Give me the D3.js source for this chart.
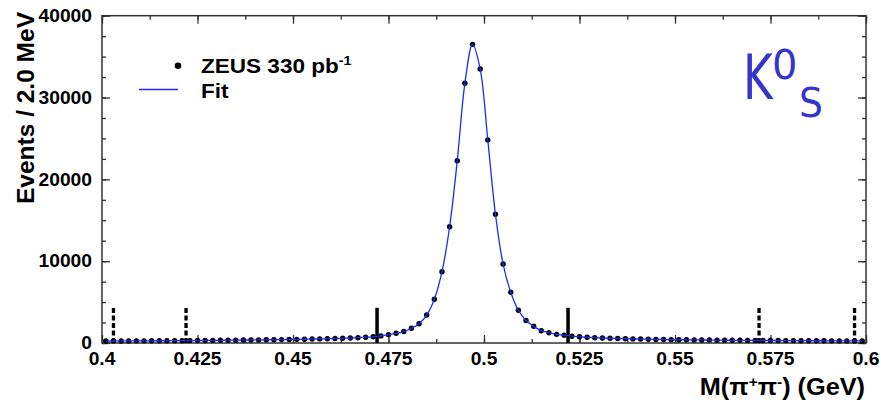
<!DOCTYPE html>
<html>
<head>
<meta charset="utf-8">
<script src="https://cdn.jsdelivr.net/npm/d3@7"></script>
<style>
  html, body { margin: 0; padding: 0; background: #fff; }
  svg { display: block; }
  text { font-family: "Liberation Sans", Arial, sans-serif; font-weight: bold; fill: #000; }
</style>
</head>
<body>
<svg width="881" height="403"></svg>
<script>
// 2 MeV bins from 0.400 to 0.600 GeV, counts per bin
const massLo = 0.4;
const binWidth = 0.002;
const counts = [
  240, 245, 250, 255, 260, 265, 270, 275, 280, 285,
  290, 295, 300, 310, 320, 330, 340, 350, 360, 370,
  380, 390, 400, 415, 430, 445, 460, 480, 500, 520,
  545, 575, 610, 650, 700, 760, 870, 1020, 1190, 1400,
  1800, 2360, 3420, 5340, 8710, 14210, 22280, 31740, 36500, 33480,
  24800, 15730, 9650, 6200, 4000, 2750, 2040, 1500, 1260, 1060,
  960, 830, 760, 700, 650, 610, 580, 550, 520, 500,
  480, 460, 440, 425, 410, 400, 390, 380, 370, 360,
  350, 340, 335, 330, 320, 315, 310, 305, 300, 295,
  290, 285, 280, 275, 270, 265, 260, 255, 250, 245
];
// signal window (solid) and side bands (dashed)
const signalEdges = [0.472, 0.522];
const sidebandEdges = [0.403, 0.422, 0.572, 0.597];
const markerHeight = 4300;

const xTicks = [0.4, 0.425, 0.45, 0.475, 0.5, 0.525, 0.55, 0.575, 0.6];
const yTicks = [0, 10000, 20000, 30000, 40000];

const svg = d3.select('svg');
const pLeft = 102, pRight = 866, pTop = 15.7, pBottom = 343;
const sx = 1.1; // text in the picture is a bit wide

const x = d3.scaleLinear().domain([0.4, 0.6]).range([pLeft, pRight]);
const y = d3.scaleLinear().domain([0, 40000]).range([pBottom, pTop]);

const data = counts.map((c, i) => ({ m: massLo + binWidth * (i + 0.5), c }));

function label(g, tx, ty, str, size, anchor) {
  return g.append('text')
    .attr('transform', `translate(${tx},${ty}) scale(${sx},1)`)
    .attr('text-anchor', anchor || 'start')
    .style('font-size', size + 'px')
    .text(str);
}

// frame
svg.append('rect')
  .attr('x', pLeft).attr('y', pTop)
  .attr('width', pRight - pLeft).attr('height', pBottom - pTop)
  .attr('fill', 'none').attr('stroke', '#333').attr('stroke-width', 1.5);

// ticks (inside the frame, like ROOT)
const minorX = d3.range(0, 17).map(i => 0.4 + i * 0.0125);
const minorY = d3.range(0, 17).map(i => i * 2500);
function tickAxis(axis, vals, size, tx, ty) {
  const g = svg.append('g').attr('transform', `translate(${tx},${ty})`)
    .call(axis.tickValues(vals).tickSize(size).tickFormat(''));
  g.select('.domain').remove();
  g.selectAll('line').attr('stroke', '#333').attr('stroke-width', 1.3);
}
tickAxis(d3.axisBottom(x), minorX, -4, 0, pBottom);
tickAxis(d3.axisBottom(x), xTicks, -8, 0, pBottom);
tickAxis(d3.axisTop(x), minorX, -4, 0, pTop);
tickAxis(d3.axisTop(x), xTicks, -8, 0, pTop);
tickAxis(d3.axisLeft(y), minorY, -4, pLeft, 0);
tickAxis(d3.axisLeft(y), yTicks, -8, pLeft, 0);
tickAxis(d3.axisRight(y), minorY, -4, pRight, 0);
tickAxis(d3.axisRight(y), yTicks, -8, pRight, 0);

// tick labels
const labels = svg.append('g');
xTicks.forEach(t => label(labels, x(t), 365, String(+t.toFixed(3)), 17.5, 'middle'));
yTicks.forEach(t => label(labels, 92, y(t) + 6.3, String(t), 17.5, 'end'));

// axis titles
const xt = svg.append('text')
  .attr('transform', `translate(865,395) scale(${sx},1)`)
  .attr('text-anchor', 'end')
  .style('font-size', '23px');
xt.append('tspan').text('M(\u03c0');
xt.append('tspan').attr('dy', -8).style('font-size', '14px').text('+');
xt.append('tspan').attr('dy', 8).text('\u03c0');
xt.append('tspan').attr('dy', -8).style('font-size', '14px').text('-');
xt.append('tspan').attr('dy', 8).text(') (GeV)');

svg.append('text')
  .attr('transform', 'translate(34,12) rotate(-90)')
  .attr('text-anchor', 'end')
  .style('font-size', '24.5px')
  .text('Events / 2.0 MeV');

// window markers
const markers = svg.append('g');
markers.selectAll('.sig').data(signalEdges).join('line')
  .attr('x1', d => x(d)).attr('x2', d => x(d))
  .attr('y1', y(0)).attr('y2', y(markerHeight))
  .attr('stroke', '#000').attr('stroke-width', 3.5);
markers.selectAll('.sb').data(sidebandEdges).join('line')
  .attr('x1', d => x(d)).attr('x2', d => x(d))
  .attr('y1', y(0)).attr('y2', y(markerHeight))
  .attr('stroke', '#000').attr('stroke-width', 3.3)
  .attr('stroke-dasharray', '5,2.5');

// data points
svg.append('g').selectAll('circle').data(data).join('circle')
  .attr('cx', d => x(d.m)).attr('cy', d => y(d.c)).attr('r', 2.7)
  .attr('fill', '#000');

// fit curve through the points
const line = d3.line().x(d => x(d.m)).y(d => y(d.c)).curve(d3.curveCatmullRom.alpha(0.5));
svg.append('path').datum(data)
  .attr('d', line).attr('fill', 'none')
  .attr('stroke', '#1f2cf0').attr('stroke-width', 1.3);

// legend
const leg = svg.append('g');
leg.append('circle').attr('cx', 178).attr('cy', 65.7).attr('r', 3.3).attr('fill', '#000');
leg.append('line').attr('x1', 139).attr('x2', 178).attr('y1', 89.5).attr('y2', 89.5)
  .attr('stroke', '#1f2cf0').attr('stroke-width', 1.3);
const lt = leg.append('text')
  .attr('transform', `translate(201,72.7) scale(${sx},1)`)
  .style('font-size', '20.5px');
lt.append('tspan').text('ZEUS 330 pb');
lt.append('tspan').attr('dy', -8).style('font-size', '13px').text('-1');
label(leg, 201, 98, 'Fit', 20.5);

// K0s label
const k = svg.append('g');
k.append('text').attr('transform', 'translate(743,99.3) scale(0.72,1)')
  .style('font-family', '"DejaVu Sans", sans-serif').style('font-weight', 'normal')
  .style('font-size', '63px').style('fill', '#3535cc').text('K');
k.append('text').attr('transform', 'translate(772,79.3)')
  .style('font-family', '"DejaVu Sans", sans-serif').style('font-weight', 'normal')
  .style('font-size', '40px').style('fill', '#3535cc').text('0');
k.append('text').attr('transform', 'translate(799,116.7) scale(0.92,1)')
  .style('font-family', '"DejaVu Sans", sans-serif').style('font-weight', 'normal')
  .style('font-size', '41px').style('fill', '#3535cc').text('S');
</script>
</body>
</html>
